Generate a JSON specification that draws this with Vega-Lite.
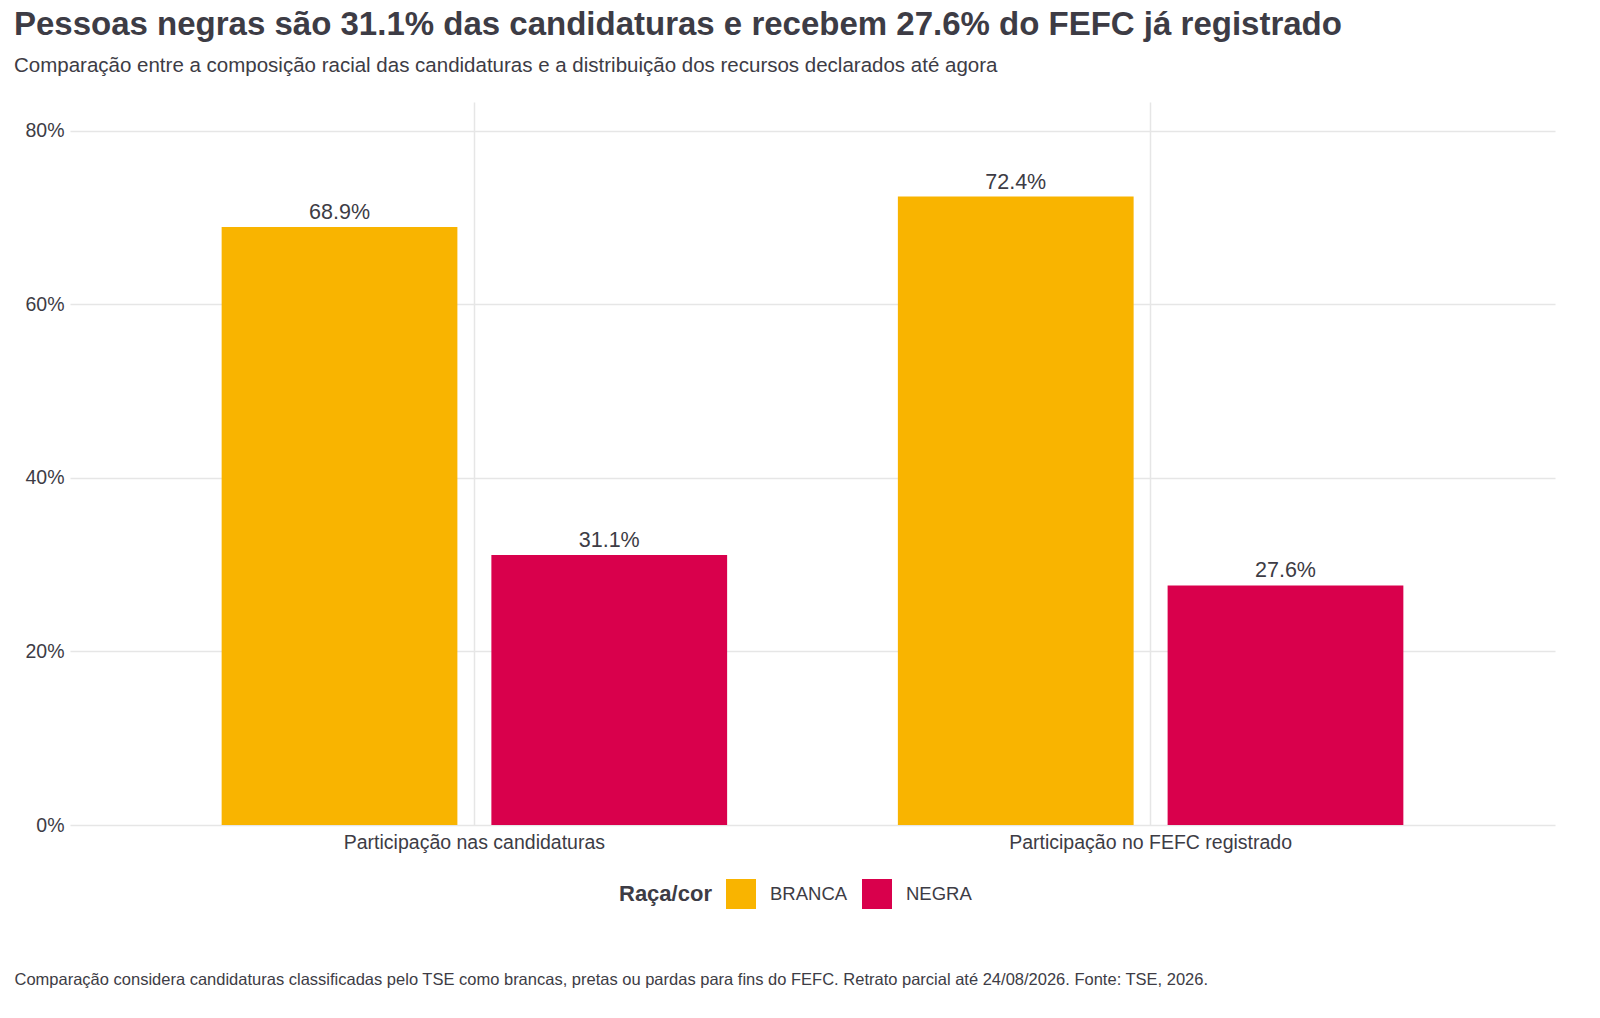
{
  "$schema": "https://vega.github.io/schema/vega-lite/v6.json",
  "width": 1600,
  "height": 1018,
  "autosize": {"type": "fit", "contains": "padding"},
  "padding": {"left": 14, "top": 8, "right": 45, "bottom": 30},
  "background": "white",
  "config": {
    "font": "Liberation Sans",
    "view": {"stroke": null}
  },
  "title": {
    "text": "Pessoas negras são 31.1% das candidaturas e recebem 27.6% do FEFC já registrado",
    "subtitle": "Comparação entre a composição racial das candidaturas e a distribuição dos recursos declarados até agora",
    "anchor": "start",
    "frame": "bounds",
    "offset": 26,
    "fontSize": 33,
    "fontWeight": "bold",
    "color": "#3d3c45",
    "subtitleFontSize": 20.5,
    "subtitleColor": "#3d3c45",
    "subtitlePadding": 14
  },
  "data": {
    "values": [
      {"grupo": "Participação nas candidaturas", "raca": "BRANCA", "pct": 68.9, "rotulo": "68.9%"},
      {"grupo": "Participação nas candidaturas", "raca": "NEGRA", "pct": 31.1, "rotulo": "31.1%"},
      {"grupo": "Participação no FEFC registrado", "raca": "BRANCA", "pct": 72.4, "rotulo": "72.4%"},
      {"grupo": "Participação no FEFC registrado", "raca": "NEGRA", "pct": 27.6, "rotulo": "27.6%"}
    ]
  },
  "encoding": {
    "x": {
      "field": "grupo", "type": "nominal",
      "scale": {"paddingInner": 0, "paddingOuter": 0.098},
      "axis": {
        "title": "Comparação considera candidaturas classificadas pelo TSE como brancas, pretas ou pardas para fins do FEFC. Retrato parcial até 24/08/2026. Fonte: TSE, 2026.",
        "titleX": -56, "titleY": 162, "titleAlign": "left", "titleAnchor": "start",
        "titleBaseline": "bottom", "titleFontSize": 16.5, "titleFontWeight": "normal", "titleColor": "#3d3c45",
        "labelAngle": 0, "labelFontSize": 19.5, "labelColor": "#3d3c45", "labelPadding": 8, "labelLimit": 0,
        "domain": false, "ticks": false,
        "grid": true, "bandPosition": 0.5, "gridColor": "#e6e6e6", "gridWidth": 1.5
      }
    },
    "xOffset": {"field": "raca", "type": "nominal", "scale": {"paddingInner": 0.126, "paddingOuter": 0.3165}},
    "y": {
      "field": "pct", "type": "quantitative",
      "scale": {"domain": [0, 83.3], "nice": false},
      "axis": {
        "title": null, "values": [0, 20, 40, 60, 80], "labelExpr": "datum.value + '%'",
        "labelFontSize": 19.5, "labelColor": "#3d3c45", "labelPadding": 6,
        "domain": false, "ticks": false, "gridColor": "#e6e6e6", "gridWidth": 1.5
      }
    }
  },
  "layer": [
    {
      "mark": {"type": "bar"},
      "encoding": {
        "color": {
          "field": "raca", "type": "nominal",
          "scale": {"domain": ["BRANCA", "NEGRA"], "range": ["#F9B400", "#D9004C"]},
          "legend": {
            "title": "Raça/cor", "orient": "none", "direction": "horizontal",
            "legendX": 549, "legendY": 777, "titleOrient": "left",
            "titleFontSize": 22, "titleColor": "#3d3c45", "titleFontWeight": "bold",
            "titlePadding": 14, "titleBaseline": "middle",
            "labelFontSize": 18.5, "labelColor": "#3d3c45",
            "symbolType": "square", "symbolSize": 900, "symbolStrokeWidth": 0,
            "symbolOpacity": 1, "columnPadding": 14, "labelOffset": 14
          }
        }
      }
    },
    {
      "mark": {"type": "text", "baseline": "bottom", "dy": -3, "fontSize": 21.5, "color": "#3d3c45"},
      "encoding": {"text": {"field": "rotulo"}}
    }
  ]
}
